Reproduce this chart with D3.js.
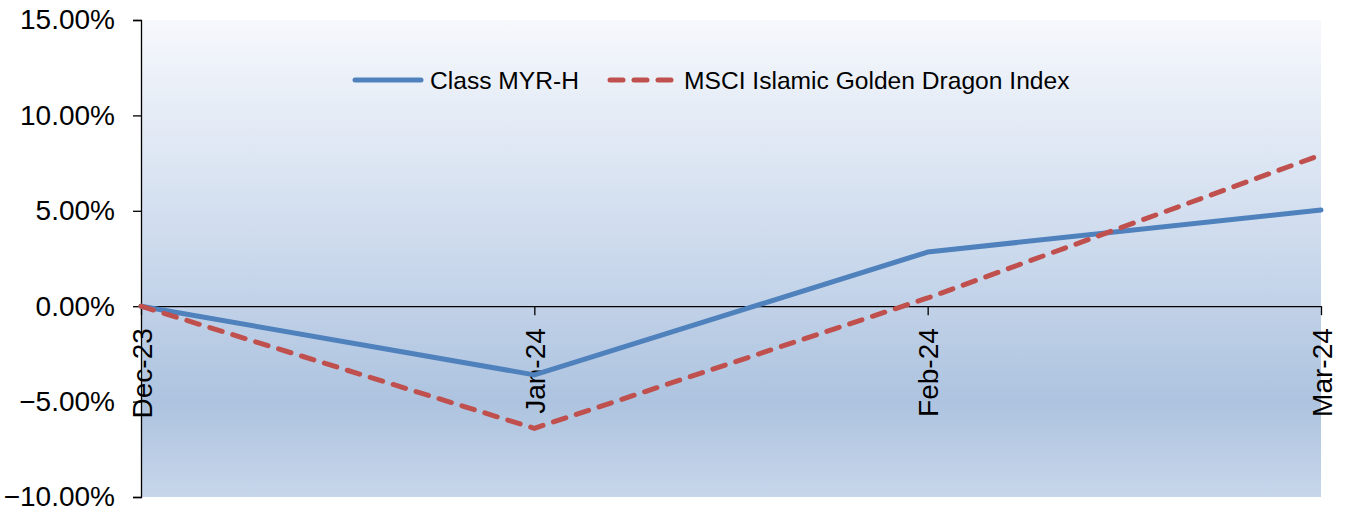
<!DOCTYPE html>
<html>
<head>
<meta charset="utf-8">
<script src="https://cdn.jsdelivr.net/npm/d3@7"></script>
<style>
  html, body { margin: 0; padding: 0; background: #ffffff; }
  svg { display: block; font-family: "Liberation Sans", Arial, sans-serif; }
</style>
</head>
<body>
<svg id="chart" width="1346" height="512"></svg>
<script>
// Monthly cumulative returns (%)
const months = ["Dec-23", "Jan-24", "Feb-24", "Mar-24"];
const classMyrH = [0, -3.6, 2.84, 5.04];
const msciIndex = [0, -6.4, 0.43, 7.93];
const seriesNames = ["Class MYR-H", "MSCI Islamic Golden Dragon Index"];
const yTicks = [15, 10, 5, 0, -5, -10];

const svg = d3.select("#chart");
const margin = { left: 141, right: 25, top: 20, bottom: 15 };
const W = 1346, H = 512;

const x = d3.scalePoint().domain(months).range([margin.left, W - margin.right]);
const y = d3.scaleLinear().domain([-10, 15]).range([H - margin.bottom, margin.top]);

// plot area gradient background
const defs = svg.append("defs");
const grad = defs.append("linearGradient")
  .attr("id", "plotBg").attr("x1", 0).attr("y1", 0).attr("x2", 0).attr("y2", 1);
grad.append("stop").attr("offset", "0%").attr("stop-color", "#f6f8fc");
grad.append("stop").attr("offset", "45%").attr("stop-color", "#cfdcee");
grad.append("stop").attr("offset", "80%").attr("stop-color", "#adc3df");
grad.append("stop").attr("offset", "100%").attr("stop-color", "#c7d6ea");

svg.append("rect")
  .attr("x", margin.left).attr("y", margin.top)
  .attr("width", W - margin.right - margin.left)
  .attr("height", H - margin.bottom - margin.top)
  .attr("fill", "url(#plotBg)");

// y axis
const yAxis = svg.append("g")
  .attr("transform", `translate(${margin.left},0)`)
  .call(d3.axisLeft(y).tickValues(yTicks).tickSize(8).tickPadding(18)
    .tickFormat(d => d3.format(".2f")(d) + "%"));
yAxis.select(".domain").attr("stroke", "#000").attr("stroke-width", 1.3);
yAxis.selectAll(".tick line").attr("stroke", "#000").attr("stroke-width", 1.3);
yAxis.selectAll(".tick text")
  .attr("font-size", 28).attr("fill", "#000")
  .attr("font-family", "'Liberation Sans', Arial, sans-serif");

// x axis at zero
const xAxis = svg.append("g")
  .attr("transform", `translate(0,${y(0)})`)
  .call(d3.axisBottom(x).tickSize(9).tickSizeOuter(0));
xAxis.select(".domain").attr("stroke", "#000").attr("stroke-width", 1.3);
xAxis.selectAll(".tick line").attr("stroke", "#000").attr("stroke-width", 1.3);
xAxis.selectAll(".tick text")
  .attr("font-size", 28).attr("fill", "#000")
  .attr("font-family", "'Liberation Sans', Arial, sans-serif")
  .attr("text-anchor", "end")
  .attr("transform", "rotate(-90)")
  .attr("x", -22).attr("y", 0).attr("dy", "0.36em");

// series lines
const line = d3.line().x((d, i) => x(months[i])).y(d => y(d));

svg.append("path").datum(classMyrH)
  .attr("d", line).attr("fill", "none")
  .attr("stroke", "#4f81bd").attr("stroke-width", 5)
  .attr("stroke-linejoin", "round").attr("stroke-linecap", "round");

svg.append("path").datum(msciIndex)
  .attr("d", line).attr("fill", "none")
  .attr("stroke", "#c0504d").attr("stroke-width", 5)
  .attr("stroke-dasharray", "13,11")
  .attr("stroke-linecap", "round");

// legend
const legend = svg.append("g");
const legY = 80;
legend.append("line")
  .attr("x1", 355).attr("x2", 421).attr("y1", legY).attr("y2", legY)
  .attr("stroke", "#4f81bd").attr("stroke-width", 5).attr("stroke-linecap", "round");
legend.append("text")
  .attr("x", 430).attr("y", legY).attr("dy", "0.36em")
  .attr("font-size", 24.6).attr("fill", "#000")
  .text(seriesNames[0]);
legend.append("line")
  .attr("x1", 610).attr("x2", 672).attr("y1", legY).attr("y2", legY)
  .attr("stroke", "#c0504d").attr("stroke-width", 5)
  .attr("stroke-dasharray", "13,11").attr("stroke-linecap", "round");
legend.append("text")
  .attr("x", 684).attr("y", legY).attr("dy", "0.36em")
  .attr("font-size", 24.6).attr("fill", "#000")
  .text(seriesNames[1]);
</script>
</body>
</html>
